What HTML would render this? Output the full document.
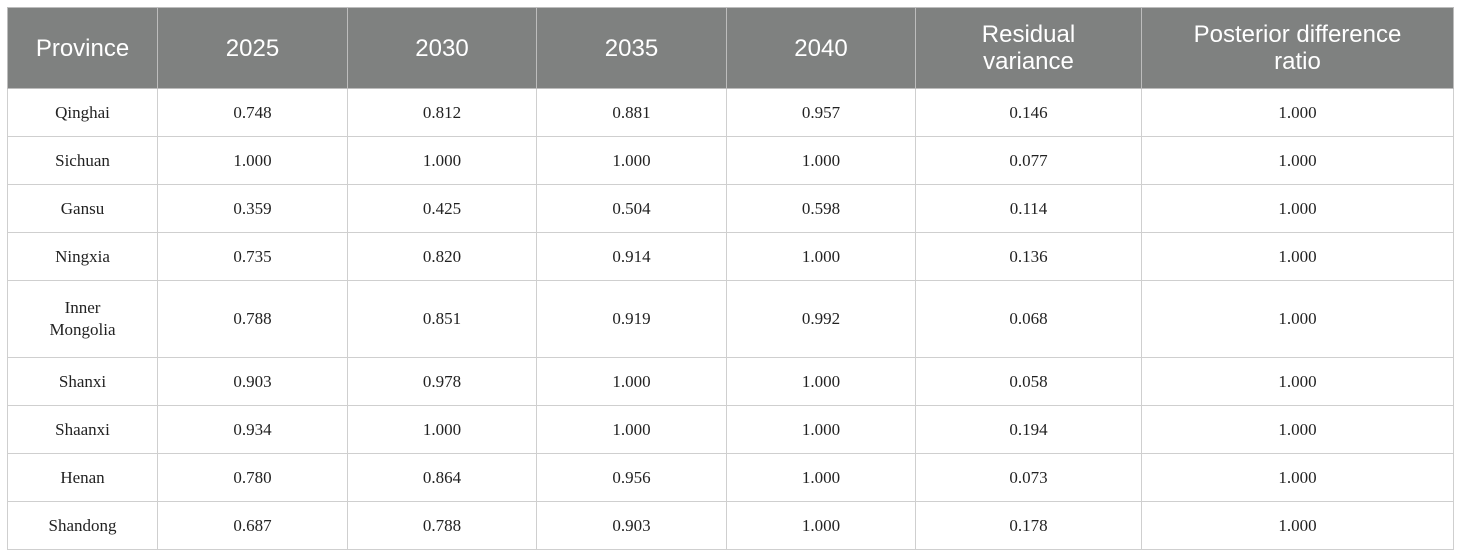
<!DOCTYPE html>
<html><head><style>
body{margin:0;background:#fff;width:1460px;height:559px;overflow:hidden}
table{position:absolute;left:7px;top:7px;border-collapse:collapse;table-layout:fixed;width:1446px}
td,th{border:1px solid #cfcfcf;text-align:center;padding:0}
th{background:#7f8180;color:#fff;font:24px "Liberation Sans",sans-serif;height:80px;line-height:27px;border-color:#bdbdbd}
td{font:17px "Liberation Serif",serif;color:#222;height:47px;line-height:22px}
</style></head><body>
<table>
<colgroup><col style="width:150px"><col style="width:190px"><col style="width:189px"><col style="width:190px"><col style="width:189px"><col style="width:226px"><col style="width:312px"></colgroup>
<tr><th>Province</th><th>2025</th><th>2030</th><th>2035</th><th>2040</th><th>Residual<br>variance</th><th>Posterior difference<br>ratio</th></tr>
<tr><td>Qinghai</td><td>0.748</td><td>0.812</td><td>0.881</td><td>0.957</td><td>0.146</td><td>1.000</td></tr>
<tr><td>Sichuan</td><td>1.000</td><td>1.000</td><td>1.000</td><td>1.000</td><td>0.077</td><td>1.000</td></tr>
<tr><td>Gansu</td><td>0.359</td><td>0.425</td><td>0.504</td><td>0.598</td><td>0.114</td><td>1.000</td></tr>
<tr><td>Ningxia</td><td>0.735</td><td>0.820</td><td>0.914</td><td>1.000</td><td>0.136</td><td>1.000</td></tr>
<tr><td style="height:76px">Inner<br>Mongolia</td><td>0.788</td><td>0.851</td><td>0.919</td><td>0.992</td><td>0.068</td><td>1.000</td></tr>
<tr><td>Shanxi</td><td>0.903</td><td>0.978</td><td>1.000</td><td>1.000</td><td>0.058</td><td>1.000</td></tr>
<tr><td>Shaanxi</td><td>0.934</td><td>1.000</td><td>1.000</td><td>1.000</td><td>0.194</td><td>1.000</td></tr>
<tr><td>Henan</td><td>0.780</td><td>0.864</td><td>0.956</td><td>1.000</td><td>0.073</td><td>1.000</td></tr>
<tr><td>Shandong</td><td>0.687</td><td>0.788</td><td>0.903</td><td>1.000</td><td>0.178</td><td>1.000</td></tr>
</table>
</body></html>
